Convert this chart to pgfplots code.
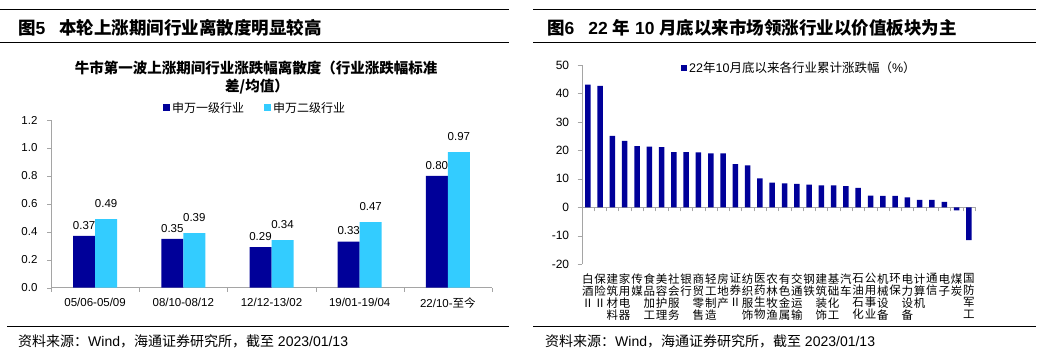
\documentclass[border=0pt]{standalone}
\usepackage{fontspec}
\setmainfont{Liberation Sans}
\newfontfamily\cjk{Noto Sans CJK SC}
\usepackage{pgfplots}
\pgfplotsset{compat=1.18}
\definecolor{navy}{RGB}{0,0,153}
\definecolor{sky}{RGB}{51,204,255}
\definecolor{axgray}{RGB}{165,165,165}
\pgfplotsset{/pgf/number format/assume math mode=true}
\begin{document}
\begin{tikzpicture}[x=1pt,y=1pt]
\path[use as bounding box] (0,0) rectangle (1060,355);
% ---------------- left panel ----------------
\draw[line width=1pt] (0,345.7) -- (509,345.7);
\draw[line width=1pt] (0,312.3) -- (509,312.3);
\node[anchor=west, inner sep=0] at (18,327) {\fontsize{17.5}{20}\selectfont\bfseries{\cjk 图}5\hspace{14pt}{\cjk 本轮上涨期间行业离散度明显较高}};
\node[inner sep=0] at (256,287) {\cjk\bfseries\fontsize{14.5}{16}\selectfont 牛市第一波上涨期间行业涨跌幅离散度（行业涨跌幅标准};
\node[inner sep=0] at (257,268) {\cjk\bfseries\fontsize{14.5}{16}\selectfont 差/均值）};
\draw[line width=1pt] (7,28) -- (509,28);
\node[anchor=west, inner sep=0] at (18,14) {\fontsize{14}{16}\selectfont{\cjk 资料来源：}Wind{\cjk ，海通证券研究所，截至} 2023/01/13};
\begin{axis}[
  at={(51pt,67.3pt)}, anchor=south west, scale only axis,
  width=441pt, height=167.7pt,
  ymin=0, ymax=1.2, xmin=-0.5, xmax=4.5,
  axis x line=bottom, axis y line=left, axis line style={axgray,-},
  ytick={0,0.2,0.4,0.6,0.8,1.0,1.2},
  yticklabel style={xshift=-6pt,/pgf/number format/fixed,/pgf/number format/fixed zerofill,/pgf/number format/precision=1},
  xticklabel style={yshift=-3pt},
  xtick={0,1,2,3,4},
  xticklabels={05/06-05/09,08/10-08/12,12/12-13/02,19/01-19/04,{22/10-{\cjk 至今}}},
  minor xtick={-0.5,0.5,1.5,2.5,3.5,4.5},
  major x tick style={draw=none},
  tick style={axgray}, tick align=outside, major tick length=4pt, minor tick length=4pt,
  ticklabel style={font=\fontsize{11.5}{13}\selectfont},
  ybar=0pt, bar width=22pt,
  nodes near coords={\pgfmathprintnumber[fixed,fixed zerofill,precision=2]{\pgfplotspointmeta}},
  every node near coord/.append style={font=\fontsize{11.5}{13}\selectfont},
  legend image code/.code={\fill[#1] (0pt,-3.5pt) rectangle (7pt,3.5pt);},
  legend style={at={(0.4626,1.0716)}, anchor=center, draw=none, fill=none,
    legend columns=2, font=\cjk\fontsize{12}{14}\selectfont,
    /tikz/every even column/.append style={column sep=18pt}},
  clip=false,
]
\addplot[fill=navy, draw=none, every node near coord/.append style={yshift=3pt}] coordinates {(0,0.37) (1,0.35) (2,0.29) (3,0.33) (4,0.80)};
\addplot[fill=sky, draw=none, every node near coord/.append style={yshift=8pt}] coordinates {(0,0.49) (1,0.39) (2,0.34) (3,0.47) (4,0.97)};
\legend{申万一级行业,申万二级行业}
\end{axis}
% ---------------- right panel ----------------
\draw[line width=1pt] (533,345.7) -- (1036,345.7);
\draw[line width=1pt] (533,312.3) -- (1036,312.3);
\node[anchor=west, inner sep=0] at (547,327) {\fontsize{17.5}{20}\selectfont\bfseries{\cjk 图}6\hspace{14pt}22 {\cjk 年} 10 {\cjk 月底以来市场领涨行业以价值板块为主}};
\draw[line width=1pt] (533,28) -- (1036,28);
\node[anchor=west, inner sep=0] at (545,14) {\fontsize{14}{16}\selectfont{\cjk 资料来源：}Wind{\cjk ，海通证券研究所，截至} 2023/01/13};
\begin{axis}[
  at={(581.7pt,90.8pt)}, anchor=south west, scale only axis,
  width=393.3pt, height=199.2pt,
  ymin=-20, ymax=50, xmin=-0.5, xmax=31.5,
  axis x line=middle, axis y line=left, axis line style={axgray,-},
  hide obscured x ticks=false, hide obscured y ticks=false,
  ytick={-20,-10,0,10,20,30,40,50},
  xtick={0,...,31},
  xticklabels={{白\\酒\\Ⅱ},{保\\险\\Ⅱ},{建\\筑\\材\\料},{家\\用\\电\\器},{传\\媒},{食\\品\\加\\工},{美\\容\\护\\理},{社\\会\\服\\务},{银\\行},{商\\贸\\零\\售},{轻\\工\\制\\造},{房\\地\\产},{证\\券\\Ⅱ},{纺\\织\\服\\饰},{医\\药\\生\\物},{农\\林\\牧\\渔},{有\\色\\金\\属},{交\\通\\运\\输},{钢\\铁},{建\\筑\\装\\饰},{基\\础\\化\\工},{汽\\车},{石\\油\\石\\化},{公\\用\\事\\业},{机\\械\\设\\备},{环\\保},{电\\力\\设\\备},{计\\算\\机},{通\\信},{电\\子},{煤\\炭},{国\\防\\军\\工}},
  xticklabel style={font=\cjk\fontsize{11.5}{12}\selectfont, align=center, anchor=north, yshift=-62pt, inner sep=0pt},
  yticklabel style={font=\fontsize{12}{14}\selectfont, xshift=-5pt},
  minor xtick={-0.5,0.5,...,31.5},
  major x tick style={draw=none},
  tick style={axgray}, tick align=outside, major tick length=4pt, minor tick length=4pt,
  ybar, bar width=5.5pt,
  legend image code/.code={\fill[#1] (0pt,-3pt) rectangle (6pt,3pt);},
  legend style={at={(0.2525,0.985)}, anchor=west, draw=none, fill=none, inner sep=0pt,
    font=\cjk\fontsize{12.5}{14}\selectfont},
  clip=false,
]
\addplot[fill=navy, draw=none] coordinates {
(0,43.1) (1,42.7) (2,25.1) (3,23.3) (4,21.5) (5,21.3) (6,21.1) (7,19.4)
(8,19.4) (9,19.3) (10,18.9) (11,18.9) (12,15.2) (13,14.7) (14,10.2) (15,8.7)
(16,8.4) (17,8.2) (18,8.0) (19,7.7) (20,7.7) (21,7.4) (22,6.8) (23,4.1)
(24,4.0) (25,4.0) (26,3.5) (27,2.6) (28,2.6) (29,1.9) (30,-1.1) (31,-11.5)};
\legend{{\fontspec{Liberation Sans}22}年{\fontspec{Liberation Sans}10}月底以来各行业累计涨跌幅（{\fontspec{Liberation Sans}\%}）}
\end{axis}
\end{tikzpicture}
\end{document}
